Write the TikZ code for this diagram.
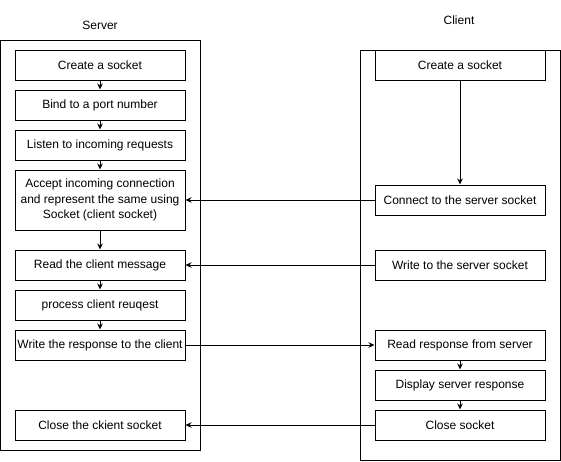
\documentclass[tikz,border=0pt]{standalone}
\usepackage{fontspec}
\setmainfont{Liberation Sans}
\usepackage{tikz}
\usetikzlibrary{arrows.meta}

\begin{document}
\begin{tikzpicture}
        [
            x=1pt, y=-1pt,
            >={Stealth[length=6pt,width=5.5pt]},
            every node/.style={font=\fontsize{12}{15.8}\selectfont},
            stage/.style={rectangle, draw, line width=1pt, minimum width=170pt, minimum height=30pt, inner sep=0pt, align=center},
            lane/.style={rectangle, draw, line width=1pt, minimum width=200pt, inner sep=0pt},
        ]
            \useasboundingbox (0,0) rectangle (561,461);

            % lanes
            \node[lane, minimum height=410pt] (server) at (100.5, 245.5) {};
            \node[lane, minimum height=410pt] (client) at (460.5, 255.5) {};
            \node (serverlabel) at (100, 25) {Server};
            \node (clientlabel) at (459, 20) {Client};

            % server side
            \node[stage] (S1) at (100, 65) {Create a socket};
            \node[stage] (S2) at (100, 105) {Bind to a port number};
            \node[stage] (S3) at (100, 145) {Listen to incoming requests};
            \node[stage, minimum height=60pt] (S4) at (100, 200) {Accept incoming connection\\and represent the same using\\Socket (client socket)};
            \node[stage] (S5) at (100, 265) {Read the client message};
            \node[stage] (S6) at (100, 305) {process client reuqest};
            \node[stage] (S7) at (100, 345) {Write the response to the client};
            \node[stage] (S8) at (100, 425) {Close the ckient socket};

            % client side
            \node[stage] (C1) at (460, 65) {Create a socket};
            \node[stage] (C2) at (460, 200) {Connect to the server socket};
            \node[stage] (C3) at (460, 265) {Write to the server socket};
            \node[stage] (C4) at (460, 345) {Read response from server};
            \node[stage] (C5) at (460, 385) {Display server response};
            \node[stage] (C6) at (460, 425) {Close socket};

            \draw[->, line width=1pt] (S1.south) -- (S2.north);
            \draw[->, line width=1pt] (S2.south) -- (S3.north);
            \draw[->, line width=1pt] (S3.south) -- (S4.north);
            \draw[->, line width=1pt] (S4.south) -- (S5.north);
            \draw[->, line width=1pt] (S5.south) -- (S6.north);
            \draw[->, line width=1pt] (S6.south) -- (S7.north);

            \draw[->, line width=1pt] (C1.south) -- (C2.north);
            \draw[->, line width=1pt] (C4.south) -- (C5.north);
            \draw[->, line width=1pt] (C5.south) -- (C6.north);

            \draw[->, line width=1pt] (C2.west) -- (S4.east);
            \draw[->, line width=1pt] (C3.west) -- (S5.east);
            \draw[->, line width=1pt] (S7.east) -- (C4.west);
            \draw[->, line width=1pt] (C6.west) -- (S8.east);
        \end{tikzpicture}
\end{document}
